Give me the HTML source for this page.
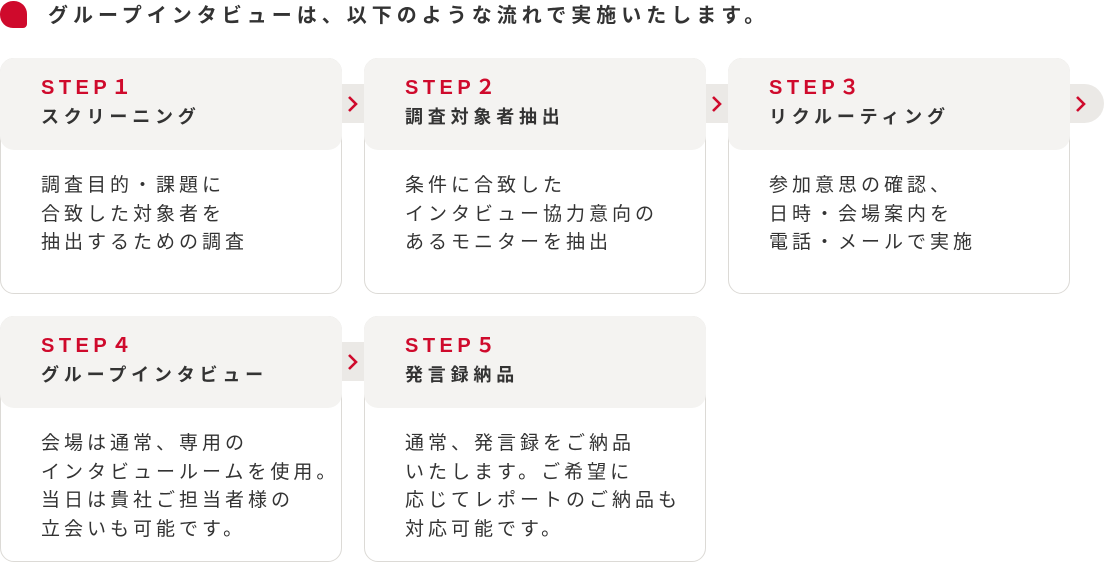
<!DOCTYPE html>
<html><head><meta charset="utf-8"><style>
*{margin:0;padding:0;box-sizing:border-box}
body{width:1104px;height:562px;background:#fff;position:relative;overflow:hidden;font-family:"Liberation Sans","Noto Sans CJK JP",sans-serif;color:#333}
.mark{position:absolute;left:0;top:1px;width:27px;height:27px;background:#cf0a2c;border-radius:13px 13px 4px 13px}
.title{position:absolute;left:48px;top:2px;font-size:20px;font-weight:bold;letter-spacing:5px;line-height:28px;color:#333}
.card{position:absolute;width:342px;border:1px solid #dcdad6;border-radius:14px;background:#fff}
.hd{position:absolute;left:-1px;top:-1px;width:342px;height:92px;background:#f4f3f1;border-radius:14px}
.step{position:absolute;left:40px;top:16px;font-size:20px;font-weight:bold;color:#cf0a2c;letter-spacing:4.5px;line-height:26px}
.name{position:absolute;left:40px;top:45px;font-size:18px;font-weight:bold;letter-spacing:4.8px;line-height:26px;color:#333}
.body{position:absolute;left:40px;top:113px;font-size:19px;letter-spacing:4px;line-height:28.5px;color:#333}
.tab{position:absolute;top:84px;width:22px;height:39px;background:#ebe9e6}
.tab svg{position:absolute;left:4px;top:11px}
</style></head><body>
<div class="mark"></div>
<div class="title">グループインタビューは、以下のような流れで実施いたします。</div>

<div class="card" style="left:0;top:58px;height:236px"><div class="hd"></div><div class="step">STEP１</div><div class="name">スクリーニング</div><div class="body">調査目的・課題に<br>合致した対象者を<br>抽出するための調査</div></div>
<div class="card" style="left:364px;top:58px;height:236px"><div class="hd"></div><div class="step">STEP２</div><div class="name">調査対象者抽出</div><div class="body">条件に合致した<br>インタビュー協力意向の<br>あるモニターを抽出</div></div>
<div class="card" style="left:728px;top:58px;height:236px"><div class="hd"></div><div class="step">STEP３</div><div class="name">リクルーティング</div><div class="body">参加意思の確認、<br>日時・会場案内を<br>電話・メールで実施</div></div>
<div class="card" style="left:0;top:316px;height:246px"><div class="hd"></div><div class="step">STEP４</div><div class="name">グループインタビュー</div><div class="body">会場は通常、専用の<br>インタビュールームを使用。<br>当日は貴社ご担当者様の<br>立会いも可能です。</div></div>
<div class="card" style="left:364px;top:316px;height:246px"><div class="hd"></div><div class="step">STEP５</div><div class="name">発言録納品</div><div class="body">通常、発言録をご納品<br>いたします。ご希望に<br>応じてレポートのご納品も<br>対応可能です。</div></div>

<div class="tab" style="left:342px"><svg width="12" height="18"><path d="M3 2 L10 9 L3 16" fill="none" stroke="#cf0a2c" stroke-width="2.6"/></svg></div>
<div class="tab" style="left:706px"><svg width="12" height="18"><path d="M3 2 L10 9 L3 16" fill="none" stroke="#cf0a2c" stroke-width="2.6"/></svg></div>
<div class="tab" style="left:1070px;width:34px;border-radius:0 20px 20px 0"><svg width="12" height="18"><path d="M3 2 L10 9 L3 16" fill="none" stroke="#cf0a2c" stroke-width="2.6"/></svg></div>
<div class="tab" style="left:342px;top:342px"><svg width="12" height="18"><path d="M3 2 L10 9 L3 16" fill="none" stroke="#cf0a2c" stroke-width="2.6"/></svg></div>
</body></html>
